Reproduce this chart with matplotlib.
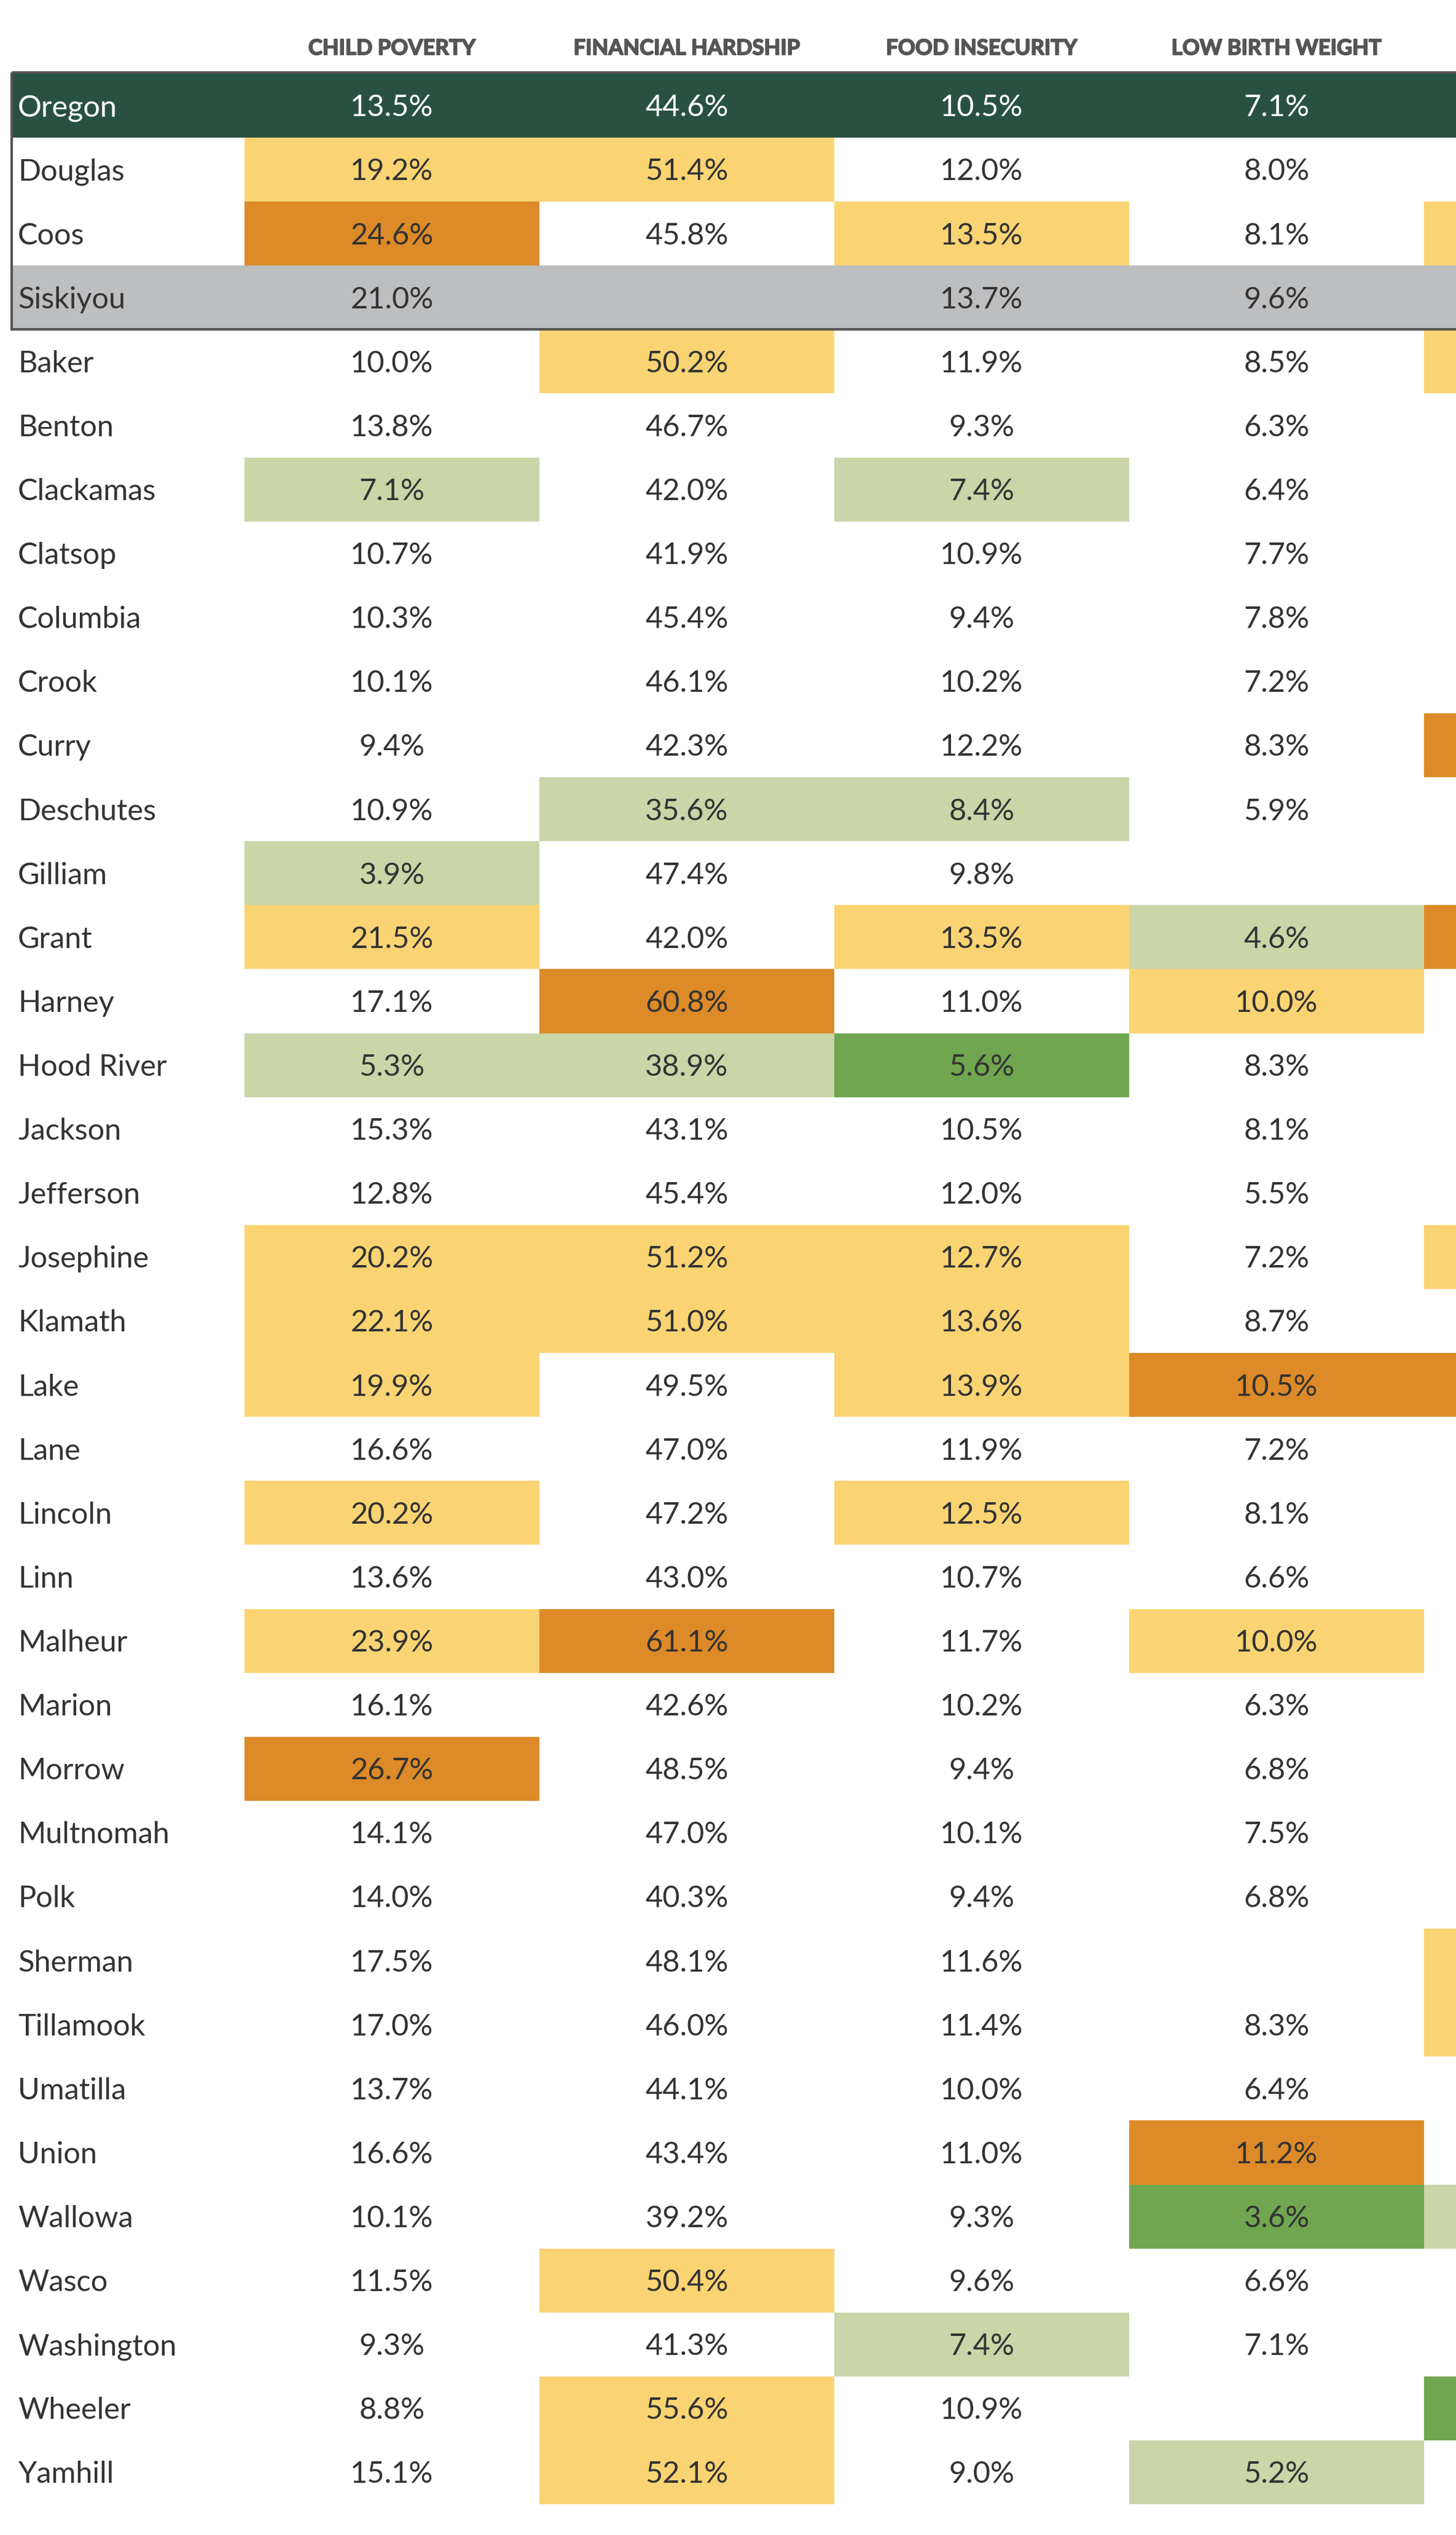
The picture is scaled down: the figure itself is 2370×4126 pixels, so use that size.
import matplotlib
matplotlib.use("Agg")
import matplotlib.pyplot as plt
import matplotlib.patheffects as pe
from matplotlib.patches import Rectangle

# ---------------- data ----------------
counties = ["Oregon", "Douglas", "Coos", "Siskiyou", "Baker", "Benton", "Clackamas",
            "Clatsop", "Columbia", "Crook", "Curry", "Deschutes", "Gilliam", "Grant",
            "Harney", "Hood River", "Jackson", "Jefferson", "Josephine", "Klamath",
            "Lake", "Lane", "Lincoln", "Linn", "Malheur", "Marion", "Morrow",
            "Multnomah", "Polk", "Sherman", "Tillamook", "Umatilla", "Union",
            "Wallowa", "Wasco", "Washington", "Wheeler", "Yamhill"]

headers = ["CHILD POVERTY", "FINANCIAL HARDSHIP", "FOOD INSECURITY", "LOW BIRTH WEIGHT", ""]

child_poverty = [13.5, 19.2, 24.6, 21.0, 10.0, 13.8, 7.1, 10.7, 10.3, 10.1, 9.4, 10.9,
                 3.9, 21.5, 17.1, 5.3, 15.3, 12.8, 20.2, 22.1, 19.9, 16.6, 20.2, 13.6,
                 23.9, 16.1, 26.7, 14.1, 14.0, 17.5, 17.0, 13.7, 16.6, 10.1, 11.5, 9.3,
                 8.8, 15.1]
financial_hardship = [44.6, 51.4, 45.8, None, 50.2, 46.7, 42.0, 41.9, 45.4, 46.1, 42.3,
                      35.6, 47.4, 42.0, 60.8, 38.9, 43.1, 45.4, 51.2, 51.0, 49.5, 47.0,
                      47.2, 43.0, 61.1, 42.6, 48.5, 47.0, 40.3, 48.1, 46.0, 44.1, 43.4,
                      39.2, 50.4, 41.3, 55.6, 52.1]
food_insecurity = [10.5, 12.0, 13.5, 13.7, 11.9, 9.3, 7.4, 10.9, 9.4, 10.2, 12.2, 8.4,
                   9.8, 13.5, 11.0, 5.6, 10.5, 12.0, 12.7, 13.6, 13.9, 11.9, 12.5, 10.7,
                   11.7, 10.2, 9.4, 10.1, 9.4, 11.6, 11.4, 10.0, 11.0, 9.3, 9.6, 7.4,
                   10.9, 9.0]
low_birth_weight = [7.1, 8.0, 8.1, 9.6, 8.5, 6.3, 6.4, 7.7, 7.8, 7.2, 8.3, 5.9, None,
                    4.6, 10.0, 8.3, 8.1, 5.5, 7.2, 8.7, 10.5, 7.2, 8.1, 6.6, 10.0, 6.3,
                    6.8, 7.5, 6.8, None, 8.3, 6.4, 11.2, 3.6, 6.6, 7.1, None, 5.2]
# fifth column is cut off at the right edge; only its shading is visible
fifth_column = [None] * len(counties)

# ratings: Y = worse, O = much worse, L = better, G = much better, "" = neutral
cp_rating = ["", "Y", "O", "", "", "", "L", "", "", "", "", "", "L", "Y", "", "L", "",
             "", "Y", "Y", "Y", "", "Y", "", "Y", "", "O", "", "", "", "", "", "", "",
             "", "", "", ""]
fh_rating = ["", "Y", "", "", "Y", "", "", "", "", "", "", "L", "", "", "O", "L", "",
             "", "Y", "Y", "", "", "", "", "O", "", "", "", "", "", "", "", "", "",
             "Y", "", "Y", "Y"]
fi_rating = ["", "", "Y", "", "", "", "L", "", "", "", "", "L", "", "Y", "", "G", "",
             "", "Y", "Y", "Y", "", "Y", "", "", "", "", "", "", "", "", "", "", "",
             "", "L", "", ""]
lbw_rating = ["", "", "", "", "", "", "", "", "", "", "", "", "", "L", "Y", "", "",
              "", "", "", "O", "", "", "", "Y", "", "", "", "", "", "", "", "O", "G",
              "", "", "", "L"]
fifth_rating = ["", "", "Y", "", "Y", "", "", "", "", "", "O", "", "", "O", "", "",
                "", "", "Y", "", "O", "", "", "", "", "", "", "", "", "Y", "Y", "",
                "", "L", "", "", "G", ""]

state_row = "Oregon"
compare_row = "Siskiyou"

# ---------------- style ----------------
W, H, DPI = 2370, 4126, 100
ROW0, ROW_H = 119.9, 104.11
COL0, COL_W = 398, 480
LEFT = 19
rating_colors = {"Y": "#FAD473", "O": "#DD8A28", "L": "#CAD5A8", "G": "#70A64F"}
STATE_BG = "#285142"
COMPARE_BG = "#BDBEC0"
TEXT = "#333333"
HEAD = "#555555"
FONT = "Lato"
BODY_SIZE = 35
CAP = 0.7165 * BODY_SIZE * DPI / 72.0

fig = plt.figure(figsize=(W / DPI, H / DPI), dpi=DPI)
ax = fig.add_axes([0, 0, 1, 1])
ax.set_xlim(0, W)
ax.set_ylim(H, 0)
ax.axis("off")

columns = [child_poverty, financial_hardship, food_insecurity, low_birth_weight, fifth_column]
ratings = [cp_rating, fh_rating, fi_rating, lbw_rating, fifth_rating]

for i, name in enumerate(counties):
    top = ROW0 + i * ROW_H
    yc = top + ROW_H / 2
    special = None
    if name == state_row:
        special = STATE_BG
    elif name == compare_row:
        special = COMPARE_BG
    if special:
        ax.add_patch(Rectangle((LEFT, top), W - LEFT + 10, ROW_H, facecolor=special,
                               edgecolor="none", zorder=1))
    tcolor = "white" if name == state_row else TEXT
    ax.text(29, yc + CAP / 2, name, ha="left", va="baseline", fontsize=BODY_SIZE,
            family=FONT, color=tcolor, zorder=3)
    for j, (vals, rats) in enumerate(zip(columns, ratings)):
        x0 = COL0 + j * COL_W
        r = rats[i]
        if r and not special:
            ax.add_patch(Rectangle((x0, top), COL_W, ROW_H, facecolor=rating_colors[r],
                                   edgecolor="none", zorder=1))
        v = vals[i]
        if v is not None:
            ax.text(x0 + COL_W / 2, yc + CAP / 2, f"{v:.1f}%", ha="center", va="baseline",
                    fontsize=BODY_SIZE, family=FONT, color=tcolor, zorder=3)

for j, h in enumerate(headers):
    if h:
        ax.text(COL0 + j * COL_W + COL_W / 2, 89, h, ha="center", va="baseline",
                fontsize=25, family=FONT, weight="bold", color=HEAD, zorder=3,
                path_effects=[pe.withStroke(linewidth=1.3, foreground=HEAD)])

# outline around the highlighted top rows
idx_state = counties.index(state_row)
idx_cmp = counties.index(compare_row)
box_top = ROW0 + idx_state * ROW_H
box_bot = ROW0 + (idx_cmp + 1) * ROW_H
ax.add_patch(Rectangle((LEFT, box_top - 2), W, box_bot - box_top + 2, facecolor="none",
                       edgecolor="#555555", linewidth=3, zorder=4))

fig.savefig("out.png", dpi=DPI)
